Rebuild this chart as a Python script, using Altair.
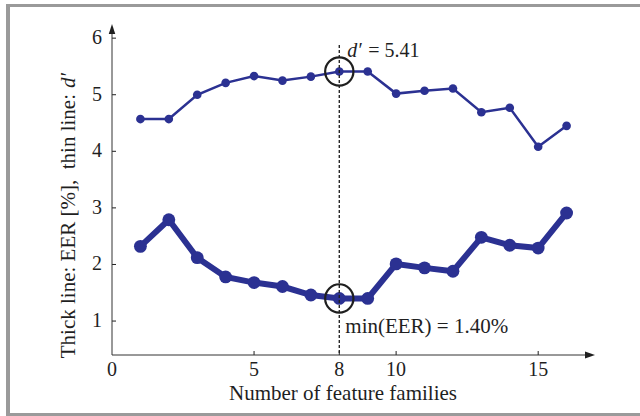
import altair as alt
import pandas as pd

# Number of feature families used, and the two performance measures
families = list(range(1, 17))
d_prime = [4.57, 4.57, 5.00, 5.21, 5.33, 5.25, 5.32, 5.41, 5.41, 5.02, 5.07, 5.11, 4.69, 4.77, 4.08, 4.45]
eer = [2.32, 2.79, 2.12, 1.78, 1.68, 1.61, 1.46, 1.40, 1.40, 2.01, 1.94, 1.88, 2.48, 2.34, 2.29, 2.91]

# Best configuration (highlighted)
best_k = 8
best_d = 5.41
best_eer = 1.40

x_labels = [0, 5, 8, 10, 15]
x_inner_ticks = [5, 8, 10, 15]
y_labels = [1, 2, 3, 4, 5, 6]

BLUE = "#2b3192"
INK = "#1f1f1f"
FRAME = "#9a9a9a"
FONT = "Liberation Serif"

W, H = 483, 331
PAD = {"left": 112, "top": 24, "right": 45, "bottom": 61}

xs = alt.Scale(domain=[0, 17], nice=False, zero=False)
ys = alt.Scale(domain=[0.4, 6.25], nice=False, zero=False)


def X(field):
    return alt.X(field, scale=xs, axis=None)


def Y(field):
    return alt.Y(field, scale=ys, axis=None)


df = pd.DataFrame({"k": families, "d": d_prime, "eer": eer})
base = alt.Chart(df)

# d' curve (thin line)
thin_line = base.mark_line(color=BLUE, strokeWidth=2.5).encode(x=X("k:Q"), y=Y("d:Q"))
thin_pts = base.mark_circle(color=BLUE, size=75, opacity=1).encode(x=X("k:Q"), y=Y("d:Q"))

# EER curve (thick line)
thick_line = base.mark_line(color=BLUE, strokeWidth=6).encode(x=X("k:Q"), y=Y("eer:Q"))
thick_pts = base.mark_circle(color=BLUE, size=165, opacity=1).encode(x=X("k:Q"), y=Y("eer:Q"))

best = alt.Chart(pd.DataFrame({"k": [best_k, best_k], "v": [best_d, best_eer]}))

# Dashed guide at the best number of families
guide = best.mark_rule(color=INK, strokeWidth=1, strokeDash=[3, 2]).encode(
    x=X("k:Q"), y=alt.value(21), y2=alt.value(H))

rings = best.mark_point(shape="circle", filled=False, size=800, stroke=INK,
                        strokeWidth=2.2, opacity=1).encode(x=X("k:Q"), y=Y("v:Q"))

d_df = alt.Chart(pd.DataFrame({"k": [best_k], "v": [best_d]}))
e_df = alt.Chart(pd.DataFrame({"k": [best_k], "v": [best_eer]}))

d_sym = d_df.mark_text(text="d\u2032", font=FONT, fontSize=20, fontStyle="italic",
                       color=INK, align="left", baseline="middle", dx=8, dy=-21).encode(
    x=X("k:Q"), y=Y("v:Q"))
d_val = d_df.mark_text(font=FONT, fontSize=20, color=INK, align="left",
                       baseline="middle", dx=29, dy=-21).encode(
    x=X("k:Q"), y=Y("v:Q"), text=alt.value(f"= {best_d:.2f}"))
e_val = e_df.mark_text(font=FONT, fontSize=21, color=INK, align="left",
                       baseline="middle", dx=6, dy=29).encode(
    x=X("k:Q"), y=Y("v:Q"), text=alt.value(f"min(EER) = {best_eer:.2f}%"))

# Inward ticks
xt = alt.Chart(pd.DataFrame({"v": x_inner_ticks})).mark_rule(color=INK, strokeWidth=1).encode(
    x=X("v:Q"), y=alt.value(H), y2=alt.value(H - 4))
yt = alt.Chart(pd.DataFrame({"v": y_labels})).mark_rule(color=INK, strokeWidth=1).encode(
    y=Y("v:Q"), x=alt.value(0), x2=alt.value(4))

# Tick labels
xl = alt.Chart(pd.DataFrame({"v": x_labels})).mark_text(
    font=FONT, fontSize=20, color=INK, align="center", baseline="middle").encode(
    x=X("v:Q"), y=alt.value(H + 15), text=alt.Text("v:Q", format="d"))
yl = alt.Chart(pd.DataFrame({"v": y_labels})).mark_text(
    font=FONT, fontSize=20, color=INK, align="right", baseline="middle").encode(
    y=Y("v:Q"), x=alt.value(-10), text=alt.Text("v:Q", format="d"))

one = alt.Chart(pd.DataFrame({"a": [0]}))

# Axis lines
x_dom = one.mark_rule(color="#333333", strokeWidth=1).encode(
    x=alt.value(0), x2=alt.value(W - 8), y=alt.value(H))
y_dom = one.mark_rule(color="#333333", strokeWidth=1).encode(
    x=alt.value(0), y=alt.value(8), y2=alt.value(H))

# Axis arrowheads
up_arrow = one.mark_point(shape="M0,-1L0.65,1L-0.65,1Z", size=100, filled=True,
                          color=INK, opacity=1).encode(
    x=alt.value(0), y=alt.value(5))
right_arrow = one.mark_point(shape="M1,0L-1,-0.7L-1,0.7Z", size=100, filled=True,
                             color=INK, opacity=1).encode(
    x=alt.value(W - 5), y=alt.value(H))

# Axis titles
x_title = one.mark_text(text="Number of feature families", font=FONT, fontSize=21,
                        color=INK, align="center", baseline="alphabetic").encode(
    x=alt.value(231), y=alt.value(H + 45))
y_title_plain = one.mark_text(text="Thick line: EER [%],\u00a0\u00a0thin line:",
                              font=FONT, fontSize=21, color=INK, angle=270,
                              align="right", baseline="middle").encode(
    x=alt.value(-43), y=alt.value(70))
y_title_ital = one.mark_text(text="d\u2032", font=FONT, fontSize=21, fontStyle="italic",
                             color=INK, angle=270, align="left", baseline="middle").encode(
    x=alt.value(-43), y=alt.value(64))

# Figure frame (left, top, bottom)
frame_left = one.mark_rule(color=FRAME, strokeWidth=4).encode(
    x=alt.value(-104), y=alt.value(-20), y2=alt.value(392))
frame_top = one.mark_rule(color=FRAME, strokeWidth=3).encode(
    x=alt.value(-106), x2=alt.value(528), y=alt.value(-18.5))
frame_bottom = one.mark_rule(color=FRAME, strokeWidth=3).encode(
    x=alt.value(-106), x2=alt.value(528), y=alt.value(390.5))

chart = alt.layer(
    thin_line, thin_pts, thick_line, thick_pts, guide, rings,
    xt, yt, xl, yl, d_sym, d_val, e_val,
    x_dom, y_dom, up_arrow, right_arrow, x_title, y_title_plain, y_title_ital,
    frame_left, frame_top, frame_bottom,
).properties(
    width=W, height=H, padding=PAD, autosize="none", background="white",
).configure_view(
    strokeWidth=0,
)

chart.save("out.html", embed_options={"renderer": "svg", "actions": False})
